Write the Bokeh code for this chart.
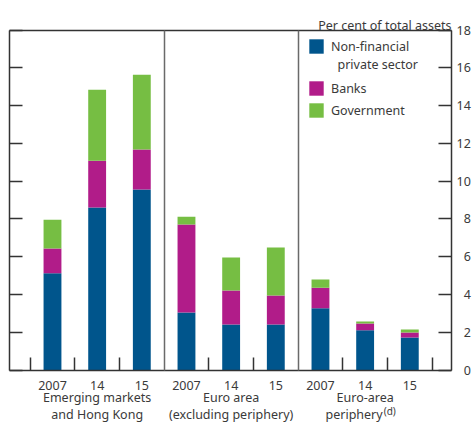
from bokeh.plotting import figure
from bokeh.models import (ColumnDataSource, FixedTicker, LinearAxis, Range1d,
                          Label, Legend, LegendItem)
from bokeh.embed import file_html
from bokeh.resources import INLINE

# ---------------- data ----------------
years = ["2007", "14", "15", "2007", "14", "15", "2007", "14", "15"]
group_line1 = ["Emerging markets", "Euro area", "Euro-area"]
group_line2 = ["and Hong Kong", "(excluding periphery)", "periphery"]
group_note = ["", "", "(d)"]
series_names = ["Non-financial private sector", "Banks", "Government"]
series_colors = ["#00558C", "#B11C89", "#76BE43"]
nfc = [5.12, 8.60, 9.55, 3.04, 2.41, 2.41, 3.27, 2.11, 1.72]
banks = [1.31, 2.48, 2.12, 4.66, 1.80, 1.53, 1.08, 0.35, 0.26]
gov = [1.53, 3.76, 3.96, 0.42, 1.74, 2.54, 0.44, 0.11, 0.16]
y_ticks = [0, 2, 4, 6, 8, 10, 12, 14, 16, 18]
unit_label = "Per cent of total assets"

FONT = "Noto Sans"
FS = "12.5px"
TXT = "#3a3a3a"
LINE = "#333333"
DIV = "#6a6a6a"

xs = list(range(len(years)))
src = ColumnDataSource(dict(x=xs, nfc=nfc, banks=banks, gov=gov))

# plot box edges (data units) inside a canvas-wide frame
x_left, x_right = -0.963, 8.934
y_bot, y_top = 0, 18

p = figure(width=475, height=423, x_range=Range1d(-1.164, 9.471),
           y_range=Range1d(-2.832, 19.562), x_axis_type=None, y_axis_type=None,
           output_backend="svg", toolbar_location=None,
           min_border=0, min_border_left=0, min_border_right=0,
           min_border_top=0, min_border_bottom=0)
p.background_fill_color = "white"
p.border_fill_color = "white"
p.outline_line_color = None

renderers = p.vbar_stack(["nfc", "banks", "gov"], x="x", width=0.4, color=series_colors,
                         line_color=None, source=src)

n_per_group = 3
boundaries = [g * n_per_group - 0.5 for g in range(1, len(group_line1))]
minor = [i + 0.5 for i in range(-1, len(years)) if (i + 0.5) not in boundaries]

# bottom axis with year labels
xa = LinearAxis(fixed_location=y_bot, bounds=(x_left, x_right),
                ticker=FixedTicker(ticks=xs, minor_ticks=minor),
                major_label_overrides={i: years[i] for i in xs},
                major_tick_line_color=None, minor_tick_in=13, minor_tick_out=0,
                minor_tick_line_color=LINE, minor_tick_line_width=1.5,
                axis_line_color=LINE, axis_line_width=1.5, major_label_standoff=5,
                major_label_text_font=FONT, major_label_text_font_size=FS,
                major_label_text_color=TXT)
p.add_layout(xa, "below")

# right axis with labels (figure space pads one-digit labels so they right-align)
ya = LinearAxis(fixed_location=x_right, bounds=(y_bot, y_top),
                ticker=FixedTicker(ticks=y_ticks), major_tick_in=13, major_tick_out=0,
                major_tick_line_color=LINE, major_tick_line_width=1.5,
                minor_tick_line_color=None, axis_line_color=LINE, axis_line_width=1.5,
                major_label_overrides={v: ("\u2007" if v < 10 else "") + str(v) for v in y_ticks},
                major_label_standoff=5,
                major_label_text_font=FONT, major_label_text_font_size=FS,
                major_label_text_color=TXT)
p.add_layout(ya, "right")

# left frame line with inward ticks
la = LinearAxis(fixed_location=x_left, bounds=(y_bot, y_top),
                ticker=FixedTicker(ticks=y_ticks),
                major_label_overrides={v: "" for v in y_ticks},
                major_label_standoff=0, major_tick_in=13, major_tick_out=0,
                major_tick_line_color=LINE, major_tick_line_width=1.5,
                minor_tick_line_color=None, axis_line_color=LINE, axis_line_width=1.5)
p.add_layout(la, "left")

# top frame line
ta = LinearAxis(fixed_location=y_top, bounds=(x_left, x_right), ticker=FixedTicker(ticks=[]),
                major_tick_line_color=None, minor_tick_line_color=None,
                axis_line_color=LINE, axis_line_width=1.5)
p.add_layout(ta, "above")

# group dividers
for b in boundaries:
    d = LinearAxis(fixed_location=b, bounds=(y_bot, y_top), ticker=FixedTicker(ticks=[]),
                   major_tick_line_color=None, minor_tick_line_color=None,
                   axis_line_color=DIV, axis_line_width=1.5)
    p.add_layout(d, "left")

p.add_layout(Label(x=x_right, y=y_top, text=unit_label, y_offset=5, text_align="right",
                   text_baseline="alphabetic", text_font=FONT, text_font_size=FS,
                   text_color=TXT))

# group labels
for g in range(len(group_line1)):
    cx = g * n_per_group + (n_per_group - 1) / 2
    p.add_layout(Label(x=cx, y=0, text=group_line1[g], y_offset=-27.5, text_align="center",
                       text_baseline="middle", text_font=FONT, text_font_size=FS,
                       text_color=TXT))
    if group_note[g]:
        p.add_layout(Label(x=cx, y=0, text=group_line2[g], x_offset=17.5, y_offset=-44,
                           text_align="right", text_baseline="middle", text_font=FONT,
                           text_font_size=FS, text_color=TXT))
        p.add_layout(Label(x=cx, y=0, text=group_note[g], x_offset=18.5, y_offset=-41,
                           text_align="left", text_baseline="middle", text_font=FONT,
                           text_font_size="10px", text_color=TXT))
    else:
        p.add_layout(Label(x=cx, y=0, text=group_line2[g], y_offset=-44, text_align="center",
                           text_baseline="middle", text_font=FONT, text_font_size=FS,
                           text_color=TXT))

# legends
first, rest = series_names[0].split(" ", 1)
ghost = p.scatter(x=[], y=[], marker="square", fill_alpha=0, line_alpha=0)
common = dict(orientation="vertical", glyph_width=18, glyph_height=18, label_standoff=6,
              padding=0, margin=0, border_line_color=None, background_fill_alpha=0,
              label_text_font=FONT, label_text_font_size=FS, label_text_color=TXT)
leg1 = Legend(items=[LegendItem(label=first, renderers=[renderers[0]]),
                     LegendItem(label="\u00a0\u00a0" + rest, renderers=[ghost])],
              location=(307, 350), label_height=17, spacing=-1, **common)
leg2 = Legend(items=[LegendItem(label=series_names[i], renderers=[renderers[i]])
                     for i in range(1, len(series_names))],
              location=(307, 304), label_height=18, spacing=4, **common)
p.add_layout(leg1, "center")
p.add_layout(leg2, "center")

open("out.html", "w").write(file_html(p, INLINE))
